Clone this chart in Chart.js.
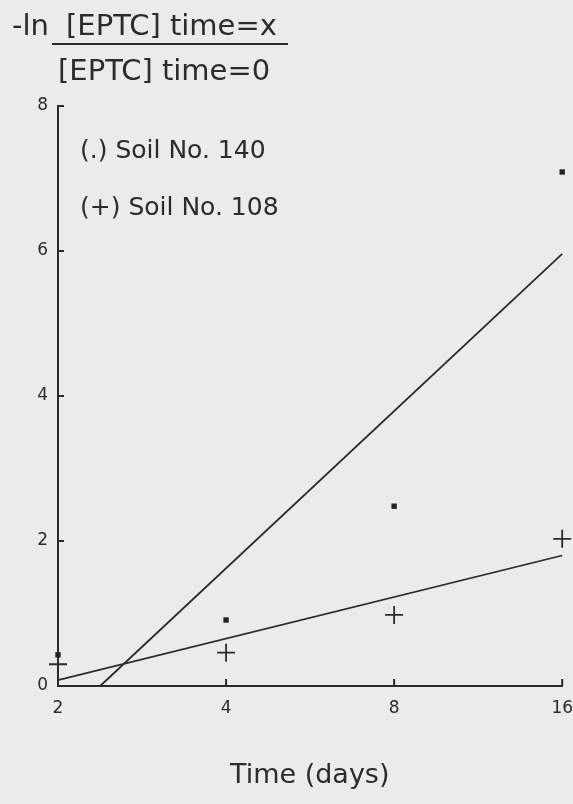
<!DOCTYPE html>
<html>
<head>
<meta charset="utf-8">
<script src="https://cdn.jsdelivr.net/npm/chart.js@4.4.1/dist/chart.umd.min.js"></script>
<style>
  html, body { margin: 0; padding: 0; background: #ebebeb; }
  #wrap { width: 573px; height: 804px; }
</style>
</head>
<body>
<div id="wrap"><canvas id="myChart" width="573" height="804"></canvas></div>
<script>
'use strict';

// days (log2 axis)
const days = [2, 4, 8, 16];
const xTicks = [2, 4, 8, 16];
const yTicks = [0, 2, 4, 6, 8];

// -ln([EPTC]x / [EPTC]0)
const soil140 = [0.43, 0.91, 2.48, 7.09];
const soil108 = [0.30, 0.46, 0.98, 2.03];

// fitted lines, end points
const fit140X = [2.38, 16];
const fit140Y = [0, 5.96];
const fit108X = [2, 16];
const fit108Y = [0.08, 1.80];

const legendLines = ['(.) Soil No. 140', '(+) Soil No. 108'];
const titleTop = '[EPTC] time=x';
const titleBottom = '[EPTC] time=0';
const xTitle = 'Time (days)';

const ink = '#2b2b2b';
const font = '"DejaVu Sans", sans-serif';

function pts(xs, ys) {
  return xs.map(function (x, i) { return { x: x, y: ys[i] }; });
}

const paperPlugin = {
  id: 'paper',
  beforeDraw: function (chart) {
    const c = chart.ctx;
    c.save();
    c.fillStyle = '#ebebeb';
    c.fillRect(0, 0, chart.width, chart.height);
    c.restore();
  },
  afterDraw: function (chart) {
    const c = chart.ctx;
    const xs = chart.scales.x, ys = chart.scales.y;
    const area = chart.chartArea;
    c.save();
    c.strokeStyle = ink;
    c.lineWidth = 2;
    // inward ticks
    xTicks.slice(1).forEach(function (v) {
      const px = xs.getPixelForValue(v);
      c.beginPath();
      c.moveTo(px, area.bottom);
      c.lineTo(px, area.bottom - 7);
      c.stroke();
    });
    yTicks.slice(1).forEach(function (v) {
      const py = ys.getPixelForValue(v);
      c.beginPath();
      c.moveTo(area.left, py);
      c.lineTo(area.left + 6, py);
      c.stroke();
    });

    c.fillStyle = ink;
    c.textBaseline = 'alphabetic';
    c.textAlign = 'left';
    // y title as a fraction
    c.font = '29px ' + font;
    c.fillText('-ln', 12, 35);
    c.fillText(titleTop, 66, 35);
    c.fillText(titleBottom, 58, 80);
    c.lineWidth = 2;
    c.beginPath();
    c.moveTo(52, 44);
    c.lineTo(288, 44);
    c.stroke();

    // legend notes
    c.font = '25px ' + font;
    c.fillText(legendLines[0], 80, 158);
    c.fillText(legendLines[1], 80, 215);

    // x title
    c.font = '27px ' + font;
    c.fillText(xTitle, 230, 783);
    c.restore();
  }
};

const ctx = document.getElementById('myChart').getContext('2d');
const myChart = new Chart(ctx, {
  type: 'scatter',
  data: {
    datasets: [
      {
        label: 'Soil No. 140',
        data: pts(days, soil140),
        pointStyle: 'rect',
        pointRadius: 3.8,
        backgroundColor: '#222',
        borderColor: '#222',
        borderWidth: 0,
        clip: false
      },
      {
        label: 'Soil No. 108',
        data: pts(days, soil108),
        pointStyle: 'cross',
        pointRadius: 9,
        borderColor: ink,
        borderWidth: 1.8,
        clip: false
      },
      {
        label: 'fit 140',
        data: pts(fit140X, fit140Y),
        showLine: true,
        pointRadius: 0,
        borderColor: ink,
        borderWidth: 1.8,
        clip: false
      },
      {
        label: 'fit 108',
        data: pts(fit108X, fit108Y),
        showLine: true,
        pointRadius: 0,
        borderColor: ink,
        borderWidth: 1.8,
        clip: false
      }
    ]
  },
  plugins: [paperPlugin],
  options: {
    responsive: false,
    animation: false,
    layout: { padding: { top: 106, right: 7, left: 0, bottom: 0 } },
    plugins: {
      legend: { display: false },
      tooltip: { enabled: false },
      title: { display: false }
    },
    scales: {
      x: {
        type: 'logarithmic',
        min: 2,
        max: 16,
        afterBuildTicks: function (s) {
          s.ticks = xTicks.map(function (v) { return { value: v }; });
        },
        afterFit: function (s) {
          s.height = 118;
          s.paddingLeft = 0;
          s.paddingRight = 0;
        },
        grid: { display: false, drawTicks: false },
        border: { display: true, color: ink, width: 2 },
        ticks: {
          color: ink,
          padding: 12,
          maxRotation: 0,
          autoSkip: false,
          font: { family: font, size: 17 },
          callback: function (v) { return String(v); }
        }
      },
      y: {
        min: 0,
        max: 8,
        afterBuildTicks: function (s) {
          s.ticks = yTicks.map(function (v) { return { value: v }; });
        },
        afterFit: function (s) {
          s.width = 58;
          s.paddingTop = 0;
          s.paddingBottom = 0;
        },
        grid: { display: false, drawTicks: false },
        border: { display: true, color: ink, width: 2 },
        ticks: {
          color: ink,
          padding: 10,
          font: { family: font, size: 17 }
        }
      }
    }
  }
});
</script>
</body>
</html>
